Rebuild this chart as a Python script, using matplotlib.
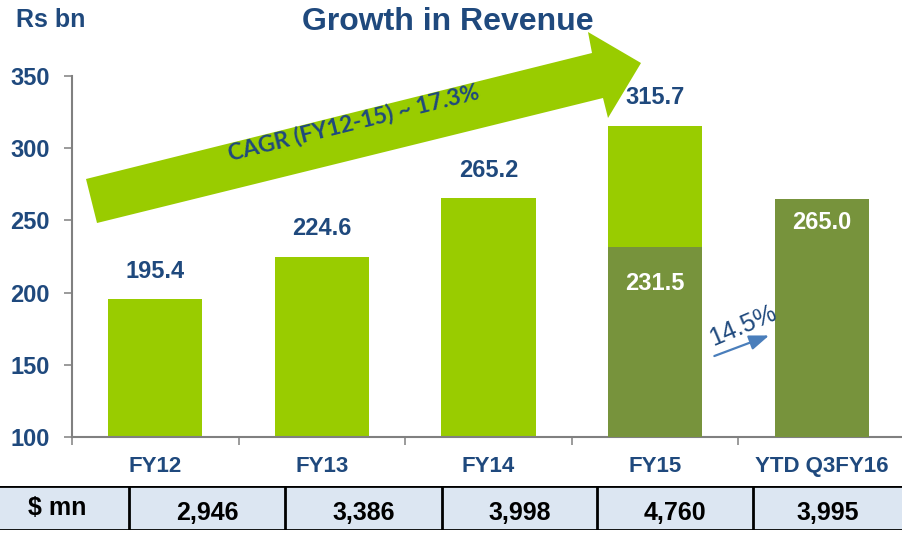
import numpy as np
import matplotlib
matplotlib.use("Agg")
import matplotlib.pyplot as plt
from matplotlib.patches import Polygon, Rectangle

plt.rcParams["font.family"] = ["Liberation Sans", "DejaVu Sans"]

# data
categories = ["FY12", "FY13", "FY14", "FY15", "YTD Q3FY16"]
revenue = [195.4, 224.6, 265.2, 315.7]          # full year, Rs bn
ytd_idx = [3, 4]
ytd_revenue = [231.5, 265.0]                     # 9M (Q3) figures, Rs bn
usd_mn = ["2,946", "3,386", "3,998", "4,760", "3,995"]
y_ticks = [100, 150, 200, 250, 300, 350]
cagr_label = "CAGR (FY12-15) ~ 17.3%"
growth_label = "14.5%"

LIGHT = "#99CC00"
DARK = "#77933C"
BLUE = "#1F497D"
GREY = "#808080"

W, H = 903, 533


def fx(x):
    return x / W


def fy(y):
    return 1 - y / H


fig = plt.figure(figsize=(W / 100, H / 100), dpi=100)
ax = fig.add_axes([fx(72), fy(437), (905 - 72) / W, (437 - 76) / H])

x = np.arange(len(categories))
bw = 0.565
ax.bar(x[:len(revenue)], revenue, width=bw, color=LIGHT, zorder=2)
ax.bar(ytd_idx, ytd_revenue, width=bw, color=DARK, zorder=3)

for i, v in enumerate(revenue):
    ax.annotate(f"{v:.1f}", (i, v), xytext=(0, 12), textcoords="offset points",
                ha="center", va="bottom", fontsize=17, fontweight="bold", color=BLUE)

inside_off = [-26, -17]
for i, v, off in zip(ytd_idx, ytd_revenue, inside_off):
    ax.annotate(f"{v:.1f}", (i, v), xytext=(0, off), textcoords="offset points",
                ha="center", va="center", fontsize=17, fontweight="bold", color="white",
                zorder=4)

ax.set_xlim(-0.5, len(categories) - 0.5)
ax.set_ylim(100, 350)
ax.set_yticks(y_ticks)
ax.set_yticklabels([str(t) for t in y_ticks], fontsize=17, fontweight="bold", color=BLUE)
ax.tick_params(axis="y", length=6, width=1.1, color=GREY, pad=10)

ax.set_xticks(np.arange(-0.5, len(categories), 1))
ax.set_xticklabels([])
ax.tick_params(axis="x", which="major", length=6, width=1.1, color=GREY)
ax.set_xticks(x, minor=True)
ax.set_xticklabels(categories, minor=True, fontsize=16, fontweight="bold", color=BLUE)
ax.tick_params(axis="x", which="minor", length=0, pad=14)

for s in ["top", "right"]:
    ax.spines[s].set_visible(False)
for s in ["left", "bottom"]:
    ax.spines[s].set_color(GREY)
    ax.spines[s].set_linewidth(1.5)
ax.spines["left"].set_zorder(5)

# growth arrow between FY15 9M and YTD Q3FY16
ax.annotate("", xy=(3.70, 171.0), xytext=(3.34, 155.4),
            arrowprops=dict(arrowstyle="-|>,head_length=1.2,head_width=0.45",
                            color="#4A7EBB", lw=1.6), zorder=5)
ax.text(3.53, 177, growth_label, rotation=23, ha="center", va="center",
        fontsize=18, color=BLUE, rotation_mode="anchor", zorder=5)

# big CAGR arrow
pts = [(86, 179), (592, 53), (588, 32), (641, 63), (608, 118), (603, 98), (97, 223)]
fig.patches.append(Polygon([(fx(a), fy(b)) for a, b in pts], closed=True,
                           transform=fig.transFigure, facecolor=LIGHT,
                           edgecolor="none", zorder=3))
fig.text(fx(354), fy(123), cagr_label, rotation=14, ha="center", va="center",
         fontsize=16.5, fontweight="bold", color=BLUE, family=["Lato", "DejaVu Sans"],
         rotation_mode="anchor", zorder=4)

fig.text(fx(448), fy(22), "Growth in Revenue", ha="center", va="center",
         fontsize=23, fontweight="bold", color=BLUE)
fig.text(fx(16), fy(20), "Rs bn", ha="left", va="center",
         fontsize=18, fontweight="bold", color=BLUE)

# $ mn table
tab = fig.add_axes([0, fy(530), 1, (530 - 486) / H])
tab.set_xlim(0, W)
tab.set_ylim(1, 0)
tab.axis("off")
edges = [0, 129, 285, 442, 597, 753, W]
tab.add_patch(Rectangle((0, 0), W, 1, facecolor="#DCE6F2", edgecolor="none"))
tab.axhline(0, color="black", lw=2)
tab.axhline(1, color="black", lw=2)
for e in edges[1:-1]:
    tab.axvline(e, color="black", lw=2)
tab.text((edges[0] + edges[1]) / 2 - 7, 0.5, "$ mn", ha="center", va="center",
         fontsize=18, fontweight="bold", color="black")
for i, s in enumerate(usd_mn):
    tab.text((edges[i + 1] + edges[i + 2]) / 2, 0.62, s, ha="center", va="center",
             fontsize=18, fontweight="bold", color="black")

fig.savefig("out.png", dpi=100)
